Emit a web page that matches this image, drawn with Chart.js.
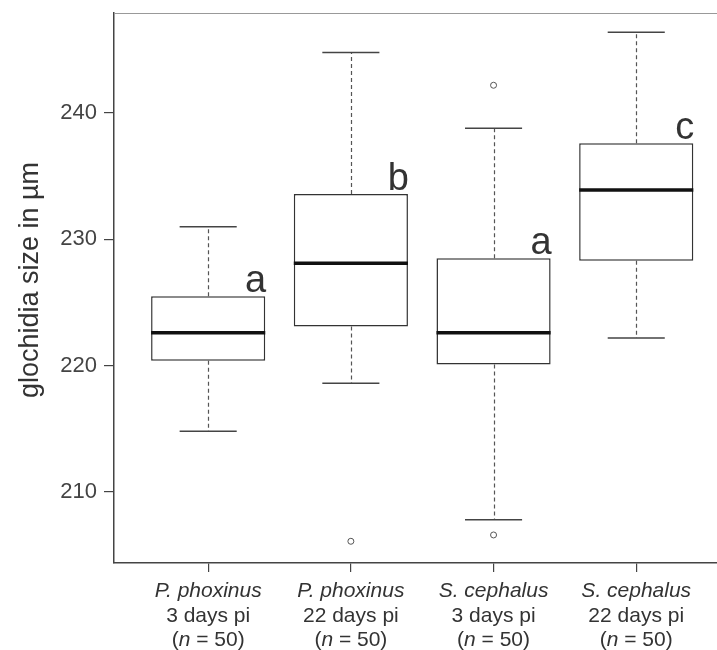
<!DOCTYPE html>
<html lang="en">
<head>
  <meta charset="UTF-8" />
  <title>Glochidia size</title>
  <script src="https://cdn.jsdelivr.net/npm/chart.js"></script>
  <style>
    html, body {
      margin: 0;
      padding: 0;
      background: #ffffff;
      overflow: hidden;
    }
    #wrap {
      width: 717px;
      height: 650px;
    }
  </style>
</head>
<body>
  <div id="wrap"><canvas id="boxChart" width="717" height="650"></canvas></div>

  <script>
    // groups along the x axis
    const groups = [1, 2, 3, 4];
    const species = ['P. phoxinus', 'P. phoxinus', 'S. cephalus', 'S. cephalus'];
    const days = ['3 days pi', '22 days pi', '3 days pi', '22 days pi'];
    const sampleSizes = [50, 50, 50, 50];
    const letters = ['a', 'b', 'a', 'c'];

    // box statistics in µm
    const whiskerLow = [214.8, 218.6, 207.8, 222.2];
    const q1 = [220.4, 223.1, 220.1, 228.3];
    const median = [222.6, 228.1, 222.6, 233.9];
    const q3 = [225.5, 233.6, 228.5, 237.6];
    const whiskerHigh = [231.0, 244.8, 238.8, 246.4];

    // points beyond the whiskers
    const outlierGroup = [2, 3, 3];
    const outlierValue = [206.1, 242.2, 206.6];

    const yTicks = [210, 220, 230, 240];

    const FONT = '"Liberation Sans", Arial, Helvetica, sans-serif';
    const boxHalf = 0.4;
    const capHalf = 0.2;

    // whiskers, caps, medians, letters and the multi-style axis text
    const boxParts = {
      id: 'boxParts',
      beforeDatasetsDraw(chart) {
        const { ctx, scales: { x, y } } = chart;
        ctx.save();
        groups.forEach((g, i) => {
          const cx = Math.round(x.getPixelForValue(g)) + 0.5;
          ctx.setLineDash([4, 3]);
          ctx.strokeStyle = '#555';
          ctx.lineWidth = 1.2;
          ctx.beginPath();
          ctx.moveTo(cx, y.getPixelForValue(q3[i]));
          ctx.lineTo(cx, y.getPixelForValue(whiskerHigh[i]));
          ctx.moveTo(cx, y.getPixelForValue(q1[i]));
          ctx.lineTo(cx, y.getPixelForValue(whiskerLow[i]));
          ctx.stroke();

          ctx.setLineDash([]);
          ctx.strokeStyle = '#444';
          ctx.lineWidth = 1.5;
          ctx.beginPath();
          [whiskerHigh[i], whiskerLow[i]].forEach(v => {
            const py = y.getPixelForValue(v);
            ctx.moveTo(x.getPixelForValue(g - capHalf), py);
            ctx.lineTo(x.getPixelForValue(g + capHalf), py);
          });
          ctx.stroke();
        });
        ctx.restore();
      },
      afterDatasetsDraw(chart) {
        const { ctx, scales: { x, y } } = chart;
        ctx.save();
        groups.forEach((g, i) => {
          const py = y.getPixelForValue(median[i]);
          ctx.strokeStyle = '#111';
          ctx.lineWidth = 3.5;
          ctx.beginPath();
          ctx.moveTo(x.getPixelForValue(g - boxHalf), py);
          ctx.lineTo(x.getPixelForValue(g + boxHalf), py);
          ctx.stroke();

          ctx.fillStyle = '#333';
          ctx.font = '38px ' + FONT;
          ctx.textAlign = 'right';
          ctx.textBaseline = 'alphabetic';
          ctx.fillText(letters[i], x.getPixelForValue(g + boxHalf) + 1, y.getPixelForValue(q3[i]) - 4);
        });
        ctx.restore();
      },
      afterDraw(chart) {
        const { ctx, chartArea, scales: { x } } = chart;
        ctx.save();

        // light top frame line
        ctx.strokeStyle = '#999';
        ctx.lineWidth = 1.2;
        ctx.beginPath();
        ctx.moveTo(chartArea.left, chartArea.top + 0.5);
        ctx.lineTo(chartArea.right, chartArea.top + 0.5);
        ctx.stroke();

        // category labels: italic species, days, sample size
        ctx.fillStyle = '#333';
        ctx.textBaseline = 'alphabetic';
        const base = chartArea.bottom;
        groups.forEach((g, i) => {
          const cx = x.getPixelForValue(g);
          ctx.textAlign = 'center';
          ctx.font = 'italic 21px ' + FONT;
          ctx.fillText(species[i], cx, base + 34);
          ctx.font = '21px ' + FONT;
          ctx.fillText(days[i], cx, base + 58.5);

          const parts = [['(', false], ['n', true], [' = ' + sampleSizes[i] + ')', false]];
          let total = 0;
          parts.forEach(p => {
            ctx.font = (p[1] ? 'italic ' : '') + '21px ' + FONT;
            total += ctx.measureText(p[0]).width;
          });
          let px = cx - total / 2;
          ctx.textAlign = 'left';
          parts.forEach(p => {
            ctx.font = (p[1] ? 'italic ' : '') + '21px ' + FONT;
            ctx.fillText(p[0], px, base + 82.5);
            px += ctx.measureText(p[0]).width;
          });
        });

        // y axis title
        ctx.translate(31, 280);
        ctx.rotate(-Math.PI / 2);
        ctx.textAlign = 'center';
        ctx.textBaseline = 'middle';
        ctx.font = '27px ' + FONT;
        ctx.fillText('glochidia size in \u00b5m', 0, 0);
        ctx.restore();
      }
    };

    const ctx = document.getElementById('boxChart').getContext('2d');
    new Chart(ctx, {
      type: 'bar',
      data: {
        datasets: [{
          type: 'bar',
          data: groups.map((g, i) => ({ x: g, y: [q1[i], q3[i]] })),
          backgroundColor: '#ffffff',
          borderColor: '#333',
          borderWidth: 1.5,
          borderSkipped: false,
          categoryPercentage: 0.8,
          barPercentage: 1.0
        }, {
          type: 'scatter',
          data: outlierGroup.map((g, i) => ({ x: g, y: outlierValue[i] })),
          pointRadius: 3,
          pointBorderWidth: 1,
          pointBorderColor: '#555',
          pointBackgroundColor: '#ffffff'
        }]
      },
      options: {
        responsive: false,
        animation: false,
        events: [],
        layout: {
          autoPadding: false,
          padding: { top: 13, right: 0, left: 0, bottom: 0 }
        },
        plugins: {
          legend: { display: false },
          tooltip: { enabled: false }
        },
        scales: {
          x: {
            type: 'linear',
            min: 0.34,
            max: 4.566,
            offset: false,
            afterBuildTicks(scale) {
              scale.ticks = groups.map(v => ({ value: v }));
            },
            afterFit(scale) {
              scale.height = 87;
              scale.paddingLeft = 0;
              scale.paddingRight = 0;
            },
            ticks: { display: false },
            grid: {
              offset: false,
              drawOnChartArea: false,
              drawTicks: true,
              tickLength: 9,
              color: '#444',
              lineWidth: 1.2
            },
            border: { display: true, color: '#444', width: 1.5 }
          },
          y: {
            min: 204.38,
            max: 247.92,
            afterBuildTicks(scale) {
              scale.ticks = yTicks.map(v => ({ value: v }));
            },
            afterFit(scale) {
              scale.width = 114;
              scale.paddingTop = 0;
              scale.paddingBottom = 0;
            },
            ticks: {
              color: '#444',
              padding: 7,
              font: { family: FONT, size: 22 }
            },
            grid: {
              drawOnChartArea: false,
              drawTicks: true,
              tickLength: 10,
              color: '#444',
              lineWidth: 1.2
            },
            border: { display: true, color: '#444', width: 1.5 }
          }
        }
      },
      plugins: [boxParts]
    });
  </script>
</body>
</html>
